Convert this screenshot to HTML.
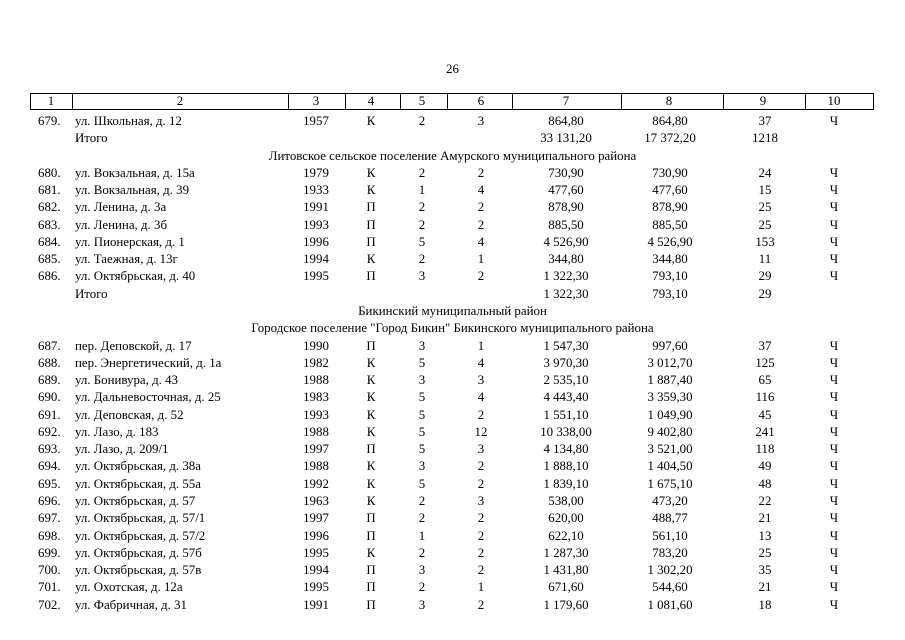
<!DOCTYPE html>
<html><head><meta charset="utf-8"><style>
body{margin:0;background:#fff;}
#p{position:relative;width:905px;height:640px;overflow:hidden;font-family:"Liberation Serif","DejaVu Serif",serif;font-size:12.9px;color:#000;}
.r{position:absolute;left:0;width:905px;height:16px;line-height:16px;}
.r span{position:absolute;top:0;white-space:nowrap;}
.c{width:120px;text-align:center;}
.v{position:absolute;top:93px;height:16px;border-left:1px solid #000;}
</style></head><body><div id="p">
<div style="position:absolute;left:440px;top:62px;width:25px;text-align:center;line-height:14px;">26</div>
<div style="position:absolute;left:30px;top:93px;width:842px;height:15px;border:1px solid #000;"></div>
<div class="v" style="left:72px"></div><div class="v" style="left:288px"></div><div class="v" style="left:345px"></div><div class="v" style="left:400px"></div><div class="v" style="left:447px"></div><div class="v" style="left:512px"></div><div class="v" style="left:621px"></div><div class="v" style="left:723px"></div><div class="v" style="left:805px"></div>
<div id="rows"></div>
</div>
<script>
var C=[316,371,422,481,566,670,765,834];
var rows=[
["H"],
["679.","ул. Школьная, д. 12","1957","К","2","3","864,80","864,80","37","Ч"],
["","Итого","","","","","33 131,20","17 372,20","1218",""],
["S","Литовское сельское поселение Амурского муниципального района"],
["680.","ул. Вокзальная, д. 15а","1979","К","2","2","730,90","730,90","24","Ч"],
["681.","ул. Вокзальная, д. 39","1933","К","1","4","477,60","477,60","15","Ч"],
["682.","ул. Ленина, д. 3а","1991","П","2","2","878,90","878,90","25","Ч"],
["683.","ул. Ленина, д. 3б","1993","П","2","2","885,50","885,50","25","Ч"],
["684.","ул. Пионерская, д. 1","1996","П","5","4","4 526,90","4 526,90","153","Ч"],
["685.","ул. Таежная, д. 13г","1994","К","2","1","344,80","344,80","11","Ч"],
["686.","ул. Октябрьская, д. 40","1995","П","3","2","1 322,30","793,10","29","Ч"],
["","Итого","","","","","1 322,30","793,10","29",""],
["S","Бикинский муниципальный район"],
["S","Городское поселение \"Город Бикин\" Бикинского муниципального района"],
["687.","пер. Деповской, д. 17","1990","П","3","1","1 547,30","997,60","37","Ч"],
["688.","пер. Энергетический, д. 1а","1982","К","5","4","3 970,30","3 012,70","125","Ч"],
["689.","ул. Бонивура, д. 43","1988","К","3","3","2 535,10","1 887,40","65","Ч"],
["690.","ул. Дальневосточная, д. 25","1983","К","5","4","4 443,40","3 359,30","116","Ч"],
["691.","ул. Деповская, д. 52","1993","К","5","2","1 551,10","1 049,90","45","Ч"],
["692.","ул. Лазо, д. 183","1988","К","5","12","10 338,00","9 402,80","241","Ч"],
["693.","ул. Лазо, д. 209/1","1997","П","5","3","4 134,80","3 521,00","118","Ч"],
["694.","ул. Октябрьская, д. 38а","1988","К","3","2","1 888,10","1 404,50","49","Ч"],
["695.","ул. Октябрьская, д. 55а","1992","К","5","2","1 839,10","1 675,10","48","Ч"],
["696.","ул. Октябрьская, д. 57","1963","К","2","3","538,00","473,20","22","Ч"],
["697.","ул. Октябрьская, д. 57/1","1997","П","2","2","620,00","488,77","21","Ч"],
["698.","ул. Октябрьская, д. 57/2","1996","П","1","2","622,10","561,10","13","Ч"],
["699.","ул. Октябрьская, д. 57б","1995","К","2","2","1 287,30","783,20","25","Ч"],
["700.","ул. Октябрьская, д. 57в","1994","П","3","2","1 431,80","1 302,20","35","Ч"],
["701.","ул. Охотская, д. 12а","1995","П","2","1","671,60","544,60","21","Ч"],
["702.","ул. Фабричная, д. 31","1991","П","3","2","1 179,60","1 081,60","18","Ч"]
];
var h="";
rows.forEach(function(r,i){
 var y=(i==0?101:121+(i-1)*17.27)-8;
 h+='<div class="r" style="top:'+y.toFixed(1)+'px">';
 if(r[0]=="H"){
  var hc=[51,180,316,371,422,481,566,669,763,834];
  hc.forEach(function(x,k){h+='<span class="c" style="left:'+(x-60)+'px">'+(k+1)+'</span>';});
 } else if(r[0]=="S"){
  h+='<span style="left:0;width:905px;text-align:center">'+r[1]+'</span>';
 } else {
  h+='<span style="left:38px">'+r[0]+'</span><span style="left:75px">'+r[1]+'</span>';
  for(var k=0;k<8;k++){ if(r[k+2]) h+='<span class="c" style="left:'+(C[k]-60)+'px">'+r[k+2]+'</span>';}
 }
 h+='</div>';
});
document.getElementById("rows").innerHTML=h;
</script>
</body></html>
